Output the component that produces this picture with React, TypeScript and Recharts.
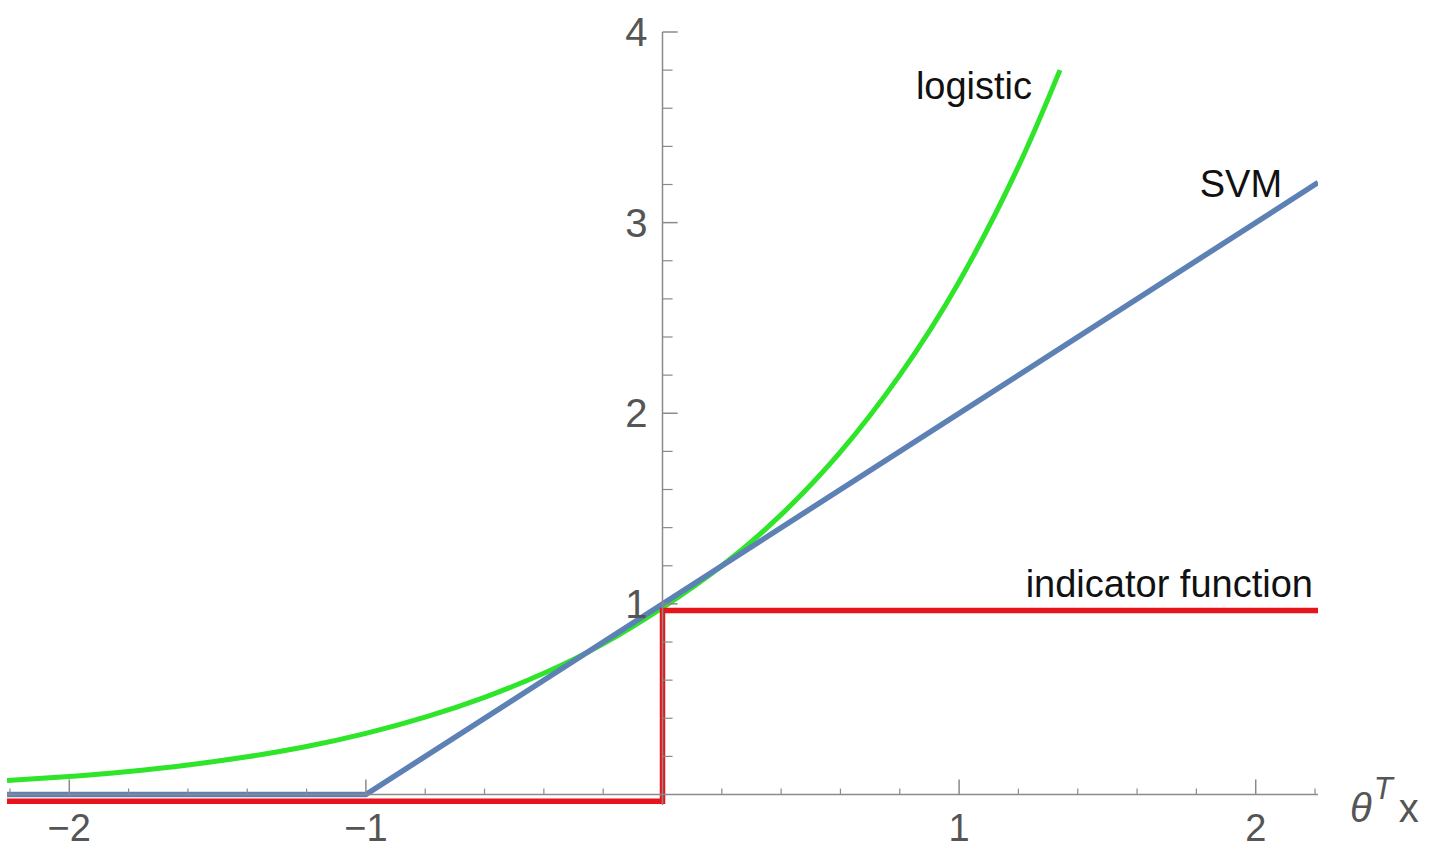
import { Line, LineChart, ReferenceDot, ReferenceLine, XAxis, YAxis } from 'recharts'

// Значения
const logisticX = [-2.21, -2, -1.8, -1.6, -1.4, -1.2, -1, -0.8, -0.6, -0.4, -0.2, 0, 0.2, 0.4, 0.6, 0.8, 1, 1.2, 1.34]
const logisticY = [0.073, 0.094, 0.121, 0.155, 0.198, 0.252, 0.321, 0.406, 0.51, 0.636, 0.79, 0.98, 1.2, 1.468, 1.797, 2.2, 2.69, 3.295, 3.8]

const svmX = [-2.21, -1, 2.21]
const svmY = [0, 0, 3.21]

const indicatorX = [-2.21, 0, 0, 2.21]
const indicatorY = [-0.035, -0.035, 0.965, 0.965]

const xTicks = [-2, -1, 1, 2]
const xMinorTicks = [-2.2, -1.8, -1.6, -1.4, -1.2, -0.8, -0.6, -0.4, -0.2, 0.2, 0.4, 0.6, 0.8, 1.2, 1.4, 1.6, 1.8, 2.2]
const yTicks = [1, 2, 3, 4]
const yMinorTicks = [0.2, 0.4, 0.6, 0.8, 1.2, 1.4, 1.6, 1.8, 2.2, 2.4, 2.6, 2.8, 3.2, 3.4, 3.6, 3.8]

const toRows = (xs: number[], ys: number[]) => xs.map((x, i) => ({ x, y: ys[i] }))

const FONT = 'Liberation Sans, Arial, sans-serif'
const AXIS = '#8a8a8a'
const TICK_TEXT = '#555'

// длины засечек в единицах данных
const X_MAJOR = 0.079
const X_MINOR = 0.031
const Y_MAJOR = 0.051
const Y_MINOR = 0.034

const fmt = (v: number) => (v < 0 ? '\u2212' + Math.abs(v) : String(v))

function curveLabel(text: string) {
	return (props: any) => {
		const vb = props.viewBox || {}
		return (
			<text x={vb.x} y={vb.y} textAnchor='end' fontFamily={FONT} fontSize={38} fill='#111'>
				{text}
			</text>
		)
	}
}

function axisTitle(props: any) {
	const vb = props.viewBox || {}
	return (
		<text x={vb.x} y={vb.y} fontFamily={FONT} fontSize={40} fill={TICK_TEXT}>
			<tspan fontStyle='italic'>θ</tspan>
			<tspan fontStyle='italic' fontSize={31} dy={-23} dx={2}>T</tspan>
			<tspan dy={23} dx={6}>x</tspan>
		</text>
	)
}

export default function App() {
	return (
		<div style={{ position: 'absolute', left: 0, top: 0, background: '#fff' }}>
			<LineChart
				width={1436}
				height={852}
				margin={{ top: 32, right: 118, bottom: 0, left: 7 }}
			>
				<XAxis
					type='number'
					dataKey='x'
					domain={[-2.21, 2.21]}
					allowDataOverflow
					ticks={xTicks}
					tickFormatter={fmt}
					axisLine={false}
					tickLine={false}
					tickSize={0}
					tickMargin={9}
					height={47}
					tick={{ fontSize: 38, fill: TICK_TEXT, fontFamily: FONT }}
				/>
				<YAxis type='number' domain={[-0.055, 4]} allowDataOverflow hide />

				<Line
					data={toRows(logisticX, logisticY)}
					dataKey='y'
					type='natural'
					stroke='#2ee52a'
					strokeWidth={5}
					dot={false}
					isAnimationActive={false}
				/>
				<Line
					data={toRows(svmX, svmY)}
					dataKey='y'
					type='linear'
					stroke='#5e81b5'
					strokeWidth={5.5}
					dot={false}
					isAnimationActive={false}
				/>
				<Line
					data={toRows(indicatorX, indicatorY)}
					dataKey='y'
					type='linear'
					stroke='#e8141c'
					strokeWidth={5.5}
					dot={false}
					isAnimationActive={false}
				/>

				{/* оси в нуле, как в Mathematica */}
				<ReferenceLine y={0} stroke={AXIS} strokeWidth={1.5} />
				<ReferenceLine segment={[{ x: 0, y: -0.055 }, { x: 0, y: 4 }]} stroke={AXIS} strokeWidth={1.5} />

				{xTicks.map((t) => (
					<ReferenceLine key={'xM' + t} segment={[{ x: t, y: 0 }, { x: t, y: X_MAJOR }]} stroke={AXIS} strokeWidth={1.5} />
				))}
				{xMinorTicks.map((t) => (
					<ReferenceLine key={'xm' + t} segment={[{ x: t, y: 0 }, { x: t, y: X_MINOR }]} stroke={AXIS} strokeWidth={1.2} />
				))}
				{yTicks.map((t) => (
					<ReferenceLine
						key={'yM' + t}
						segment={[{ x: 0, y: t }, { x: Y_MAJOR, y: t }]}
						stroke={AXIS}
						strokeWidth={1.5}
						label={{ value: t, position: 'left', offset: 15, fontSize: 40, fill: TICK_TEXT, fontFamily: FONT }}
					/>
				))}
				{yMinorTicks.map((t) => (
					<ReferenceLine key={'ym' + t} segment={[{ x: 0, y: t }, { x: Y_MINOR, y: t }]} stroke={AXIS} strokeWidth={1.2} />
				))}

				<ReferenceDot x={1.246} y={3.649} r={0} stroke='none' fill='none' label={{ content: curveLabel('logistic') }} />
				<ReferenceDot x={2.089} y={3.135} r={0} stroke='none' fill='none' label={{ content: curveLabel('SVM') }} />
				<ReferenceDot x={2.193} y={1.036} r={0} stroke='none' fill='none' label={{ content: curveLabel('indicator function') }} />
				<ReferenceDot x={2.318} y={-0.144} r={0} stroke='none' fill='none' ifOverflow='visible' label={{ content: axisTitle }} />
			</LineChart>
		</div>
	)
}
